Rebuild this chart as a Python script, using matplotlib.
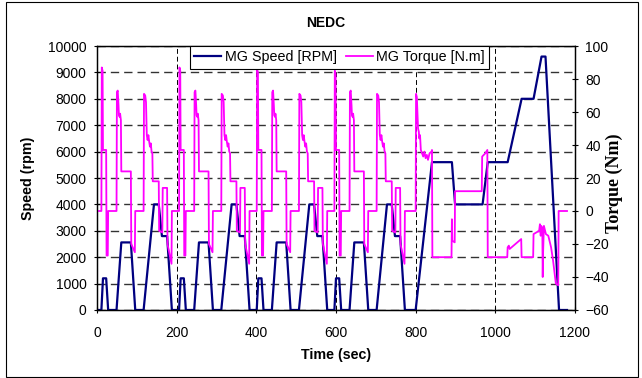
import numpy as np
import matplotlib
matplotlib.use("Agg")
import matplotlib.pyplot as plt
from matplotlib.patches import Rectangle

plt.rcParams['font.family'] = ['Liberation Sans', 'DejaVu Sans']

# MG speed (rpm) - NEDC breakpoints (4 x ECE-15 + EUDC)
speed_time = [0, 11, 15, 23, 28, 49, 61, 85, 96, 117, 143, 155, 163, 176, 188,
              195, 206, 210, 218, 223, 244, 256, 280, 291, 312, 338, 350, 358, 371, 383,
              390, 401, 405, 413, 418, 439, 451, 475, 486, 507, 533, 545, 553, 566, 578,
              585, 596, 600, 608, 613, 634, 646, 670, 681, 702, 728, 740, 748, 761, 773,
              780, 800, 841, 891, 899, 968, 981, 1031, 1066, 1096, 1116, 1126, 1160, 1180]
speed_rpm = [0, 0, 1200, 1200, 0, 0, 2560, 2560, 0, 0, 4000, 4000, 2800, 2800, 0,
             0, 0, 1200, 1200, 0, 0, 2560, 2560, 0, 0, 4000, 4000, 2800, 2800, 0,
             0, 0, 1200, 1200, 0, 0, 2560, 2560, 0, 0, 4000, 4000, 2800, 2800, 0,
             0, 0, 1200, 1200, 0, 0, 2560, 2560, 0, 0, 4000, 4000, 2800, 2800, 0,
             0, 0, 5600, 5600, 4000, 4000, 5600, 5600, 8000, 8000, 9600, 9600, 0, 0]

# MG torque (N.m), one list per cycle
ece1_t = [0, 11, 12, 14, 15, 23, 24, 27, 28, 49, 50, 52, 54, 55, 57, 58, 60, 61, 85, 86,
          95, 96, 117, 118, 121, 123, 125, 127, 129, 131, 133, 135, 137, 139, 140, 155, 156, 164, 165, 176,
          177, 187, 188]
ece1_tq = [0, 0, 87, 85, 37, 37, -27, -27, 0, 0, 72, 73, 64, 58, 57, 59, 55, 24, 24, -20,
           -25, 0, 0, 71, 70, 66, 46, 43, 46, 42, 39, 41, 36, 35, 18, 18, -12, -13, 14, 14,
           -20, -32, 0]
ece2_t = [195, 206, 207, 209, 210, 218, 219, 222, 223, 244, 245, 247, 249, 250, 252, 253, 255, 256, 280, 281,
          290, 291, 312, 313, 316, 318, 320, 322, 324, 326, 328, 330, 332, 334, 335, 350, 351, 359, 360, 371,
          372, 382, 383]
ece2_tq = [0, 0, 87, 85, 37, 37, -27, -27, 0, 0, 72, 73, 64, 58, 57, 59, 55, 24, 24, -20,
           -25, 0, 0, 71, 70, 66, 46, 43, 46, 42, 39, 41, 36, 35, 18, 18, -12, -13, 14, 14,
           -20, -32, 0]
ece3_t = [390, 401, 402, 404, 405, 413, 414, 417, 418, 439, 440, 442, 444, 445, 447, 448, 450, 451, 475, 476,
          485, 486, 507, 508, 511, 513, 515, 517, 519, 521, 523, 525, 527, 529, 530, 545, 546, 554, 555, 566,
          567, 577, 578]
ece3_tq = [0, 0, 86, 84, 37, 37, -27, -27, 0, 0, 72, 73, 64, 58, 57, 59, 55, 24, 24, -20,
           -25, 0, 0, 71, 70, 66, 46, 43, 46, 42, 39, 41, 36, 35, 18, 18, -12, -13, 14, 14,
           -20, -32, 0]
ece4_t = [585, 596, 597, 599, 600, 608, 609, 612, 613, 634, 635, 637, 639, 640, 642, 643, 645, 646, 670, 671,
          680, 681, 702, 703, 706, 708, 710, 712, 714, 716, 718, 720, 722, 724, 725, 740, 741, 749, 750, 761,
          762, 772, 773]
ece4_tq = [0, 0, 85, 83, 37, 37, -27, -27, 0, 0, 72, 73, 64, 58, 57, 59, 55, 24, 24, -20,
           -25, 0, 0, 71, 70, 66, 46, 43, 46, 42, 39, 41, 36, 35, 18, 18, -12, -13, 14, 14,
           -20, -32, 0]
eudc_t = [780, 800, 801, 803, 806, 808, 809, 811, 813, 816, 819, 822, 825, 828, 831, 835, 840, 841, 842, 890,
          891, 892, 898, 899, 966, 967, 975, 980, 981, 1030, 1031, 1034, 1036, 1065, 1066, 1095, 1096, 1110, 1112, 1114,
          1115, 1118, 1119, 1120, 1122, 1127, 1133, 1140, 1145, 1152, 1158, 1159, 1180]
eudc_tq = [0, 0, 71, 69, 50, 48, 44, 46, 37, 35, 33, 36, 32, 34, 31, 35, 36, 37, -28, -28,
           -5, -18, -19, 12, 12, 33, 35, 37, -28, -28, -22, -21, -23, -17, -28, -28, -14, -12, -8, -15,
           -9, -10, -40, -25, -9, -14, -15, -22, -30, -44, -45, 0, 0]

torque_time = np.concatenate([ece1_t, ece2_t, ece3_t, ece4_t, eudc_t])
torque_nm = np.concatenate([ece1_tq, ece2_tq, ece3_tq, ece4_tq, eudc_tq])

fig = plt.figure(figsize=(6.42, 3.78), dpi=100)
ax1 = fig.add_axes([0.1511, 0.1799, 0.7445, 0.6984])
ax2 = ax1.twinx()

l1, = ax1.plot(speed_time, speed_rpm, color='#000080', lw=1.6, label='MG Speed [RPM]')
l2, = ax2.plot(torque_time, torque_nm, color='#FF00FF', lw=1.3, label='MG Torque [N.m]')

ax1.set_xlim(0, 1200)
ax1.set_ylim(0, 10000)
ax2.set_ylim(-60, 100)
ax1.set_xticks(range(0, 1201, 200))
ax1.set_yticks(range(0, 10001, 1000))
ax2.set_yticks(range(-60, 101, 20))

ax1.set_axisbelow(True)
ax1.yaxis.grid(True, linestyle=(0, (6, 3.6)), color='#333333', lw=1.0)
ax1.xaxis.grid(True, linestyle=(0, (5, 3)), color='black', lw=0.7)

ax1.tick_params(axis='y', direction='inout', length=5, width=0.8, labelsize=10, pad=5)
ax1.tick_params(axis='x', direction='inout', length=5, width=0.8, labelsize=10, pad=9)
ax2.tick_params(axis='y', direction='inout', length=5, width=0.8, labelsize=10, pad=5)
for ax in (ax1, ax2):
    for s in ax.spines.values():
        s.set_color('black')
        s.set_linewidth(0.9)

leg = ax2.legend([l1, l2], [l1.get_label(), l2.get_label()], ncol=2,
                 loc='upper left', bbox_to_anchor=(0.1946, 1.0), borderaxespad=0,
                 fontsize=10.3, fancybox=False, framealpha=1, edgecolor='black',
                 handlelength=1.9, handletextpad=0.25, columnspacing=0.6, borderpad=0.3)
leg.get_frame().set_linewidth(0.8)

fig.text(326 / 642, 1 - 23 / 378, 'NEDC', ha='center', va='center', fontsize=10, fontweight='bold')
fig.text(28 / 642, 1 - 178 / 378, 'Speed (rpm)', rotation=90, ha='center', va='center',
         fontsize=10.3, fontweight='bold')
fig.text(336 / 642, 1 - 355 / 378, 'Time (sec)', ha='center', va='center', fontsize=10.3, fontweight='bold')
fig.text(614 / 642, 1 - 183 / 378, 'Torque (Nm)', rotation=90, ha='center', va='center',
         fontsize=13, fontweight='bold', family=['Liberation Serif', 'DejaVu Serif'])

fig.patches.append(Rectangle((0.0086, 0.0026), 0.9859, 0.9921, transform=fig.transFigure,
                             fill=False, edgecolor='black', lw=0.8))

fig.savefig('out.png', dpi=100)
